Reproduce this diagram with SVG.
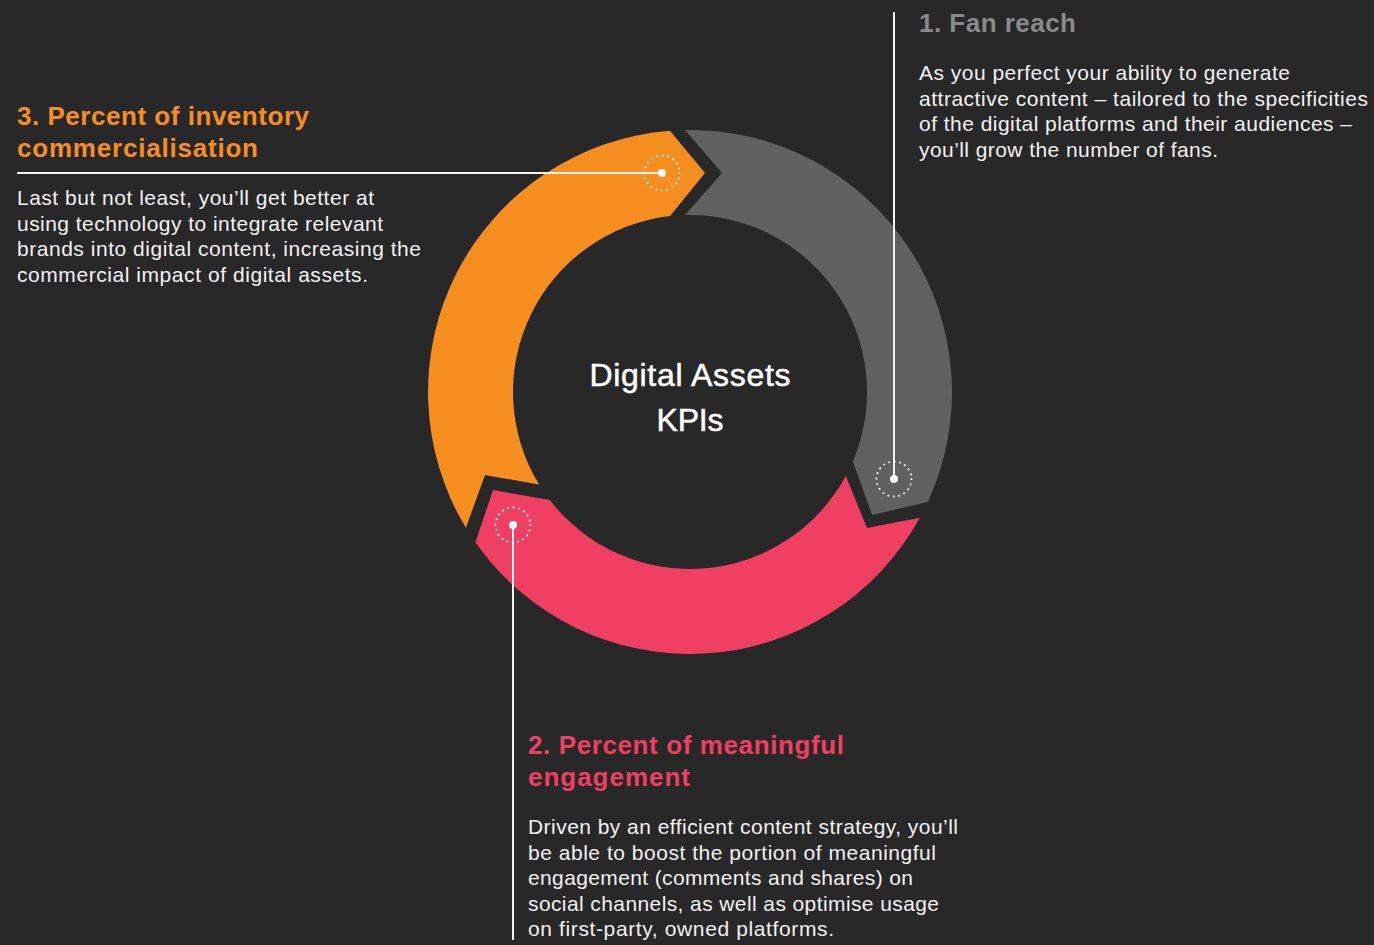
<svg xmlns="http://www.w3.org/2000/svg" width="1374" height="945" viewBox="0 0 1374 945">
  <style>
    .body { font-family: "Liberation Sans", Arial, sans-serif; font-size: 21px; fill: #f2f2f2; }
    .head { font-family: "Liberation Sans", Arial, sans-serif; font-size: 26px; font-weight: bold; }
    .center { font-family: "Liberation Sans", Arial, sans-serif; font-size: 32px; fill: #ffffff; stroke: #ffffff; stroke-width: 0.5; text-anchor: middle; }
    .conn { stroke: #f2f2f2; stroke-width: 2; fill: none; }
    .ring { fill: none; stroke: #ffffff; stroke-width: 2; stroke-dasharray: 0.1 5.4; stroke-linecap: round; }
    .dot { fill: #ffffff; }
  </style>
  <rect width="1374" height="945" fill="#282828"/>

  <g id="segment-orange">
    <path d="M465.9,527.7 A262,262 0 0 1 669.9,130.8 L705,173 L670,216.1 A177,177 0 0 0 539.1,484.5 L485,475 Z" fill="#f68f1f"/>
  </g>
  <g id="segment-gray">
    <path d="M685,130 A262,262 0 0 1 927.8,501.9 L872,515 L852.9,461.2 A177,177 0 0 0 685.1,215.1 L722,173 Z" fill="#616162"/>
  </g>
  <g id="segment-pink">
    <path d="M919.8,517.8 A262,262 0 0 1 475.4,542.3 L493,490 L549.8,500 A177,177 0 0 0 845.8,475.9 L867,528 Z" fill="#ef3f62"/>
  </g>

  <g id="center-label">
    <text class="center" x="690" y="386" textLength="201" lengthAdjust="spacing">Digital Assets</text>
    <text class="center" x="690" y="431" textLength="67" lengthAdjust="spacing">KPIs</text>
  </g>

  <g id="connectors">
    <line class="conn" x1="17" y1="173" x2="662" y2="173"/>
    <line class="conn" x1="894" y1="12" x2="894" y2="479"/>
    <line class="conn" x1="513" y1="525" x2="513" y2="940"/>
  </g>

  <g id="marker-orange">
    <circle class="ring" cx="662" cy="173" r="17.5"/>
    <circle class="dot" cx="662" cy="173" r="4"/>
  </g>
  <g id="marker-gray">
    <circle class="ring" cx="894" cy="479" r="17.5"/>
    <circle class="dot" cx="894" cy="479" r="4"/>
  </g>
  <g id="marker-pink">
    <circle class="ring" cx="513" cy="525" r="17.5"/>
    <circle class="dot" cx="513" cy="525" r="4"/>
  </g>

  <g id="label-fan-reach">
    <text class="head" x="919" y="32" fill="#8a8a8a" textLength="157" lengthAdjust="spacing">1. Fan reach</text>
    <text class="body" x="919" y="80" textLength="371" lengthAdjust="spacing">As you perfect your ability to generate</text>
    <text class="body" x="919" y="105.5" textLength="449" lengthAdjust="spacing">attractive content – tailored to the specificities</text>
    <text class="body" x="919" y="131" textLength="433" lengthAdjust="spacing">of the digital platforms and their audiences –</text>
    <text class="body" x="919" y="156.5" textLength="299" lengthAdjust="spacing">you’ll grow the number of fans.</text>
  </g>

  <g id="label-inventory">
    <text class="head" x="17" y="125" fill="#f68f1f" textLength="292" lengthAdjust="spacing">3. Percent of inventory</text>
    <text class="head" x="17" y="157" fill="#f68f1f" textLength="241" lengthAdjust="spacing">commercialisation</text>
    <text class="body" x="17" y="205" textLength="357" lengthAdjust="spacing">Last but not least, you’ll get better at</text>
    <text class="body" x="17" y="230.5" textLength="366" lengthAdjust="spacing">using technology to integrate relevant</text>
    <text class="body" x="17" y="256" textLength="404" lengthAdjust="spacing">brands into digital content, increasing the</text>
    <text class="body" x="17" y="281.5" textLength="351" lengthAdjust="spacing">commercial impact of digital assets.</text>
  </g>

  <g id="label-engagement">
    <text class="head" x="528" y="754" fill="#ef3f62" textLength="316" lengthAdjust="spacing">2. Percent of meaningful</text>
    <text class="head" x="528" y="786" fill="#ef3f62" textLength="162" lengthAdjust="spacing">engagement</text>
    <text class="body" x="528" y="834" textLength="430" lengthAdjust="spacing">Driven by an efficient content strategy, you’ll</text>
    <text class="body" x="528" y="859.5" textLength="408" lengthAdjust="spacing">be able to boost the portion of meaningful</text>
    <text class="body" x="528" y="885" textLength="385" lengthAdjust="spacing">engagement (comments and shares) on</text>
    <text class="body" x="528" y="910.5" textLength="411" lengthAdjust="spacing">social channels, as well as optimise usage</text>
    <text class="body" x="528" y="936" textLength="306" lengthAdjust="spacing">on first-party, owned platforms.</text>
  </g>
</svg>
